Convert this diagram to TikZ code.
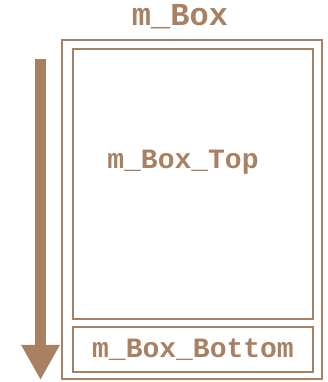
\documentclass[tikz,border=0pt]{standalone}
\usepackage{fontspec}
\setmonofont{Liberation Mono}
\usetikzlibrary{arrows.meta, positioning}
\definecolor{boxbrown}{RGB}{168,128,98}
\tikzstyle{box} = [rectangle, draw=boxbrown, line width=2pt, inner sep=0pt]
\tikzstyle{boxlabel} = [text=boxbrown, font=\ttfamily\bfseries\fontsize{28}{30}\selectfont]
\tikzstyle{bigarrow} = [draw=boxbrown, line width=11pt, -{Triangle[width=36pt,length=35pt]}]

\begin{document}
\begin{tikzpicture}[x=1pt, y=1pt]
\useasboundingbox (0,0) rectangle (327,382);

% Boxes
\node (outer) [box, minimum width=260pt, minimum height=339pt] at (192,172.5) {};
\node (top) [box, minimum width=240pt, minimum height=270pt] at (193,198) {};
\node (bottom) [box, minimum width=240pt, minimum height=45pt, boxlabel] at (193,32.5) {m\_Box\_Bottom};

% Labels
\node (boxname) [boxlabel, font=\ttfamily\bfseries\fontsize{32}{34}\selectfont] at (180,365) {m\_Box};
\node (topname) [boxlabel] at (183,220) {m\_Box\_Top};

% Direction arrow
\coordinate (start) at (40.5,323);
\coordinate (finish) at (40.5,2);
\draw [bigarrow] (start) -- (finish);

\end{tikzpicture}
\end{document}
